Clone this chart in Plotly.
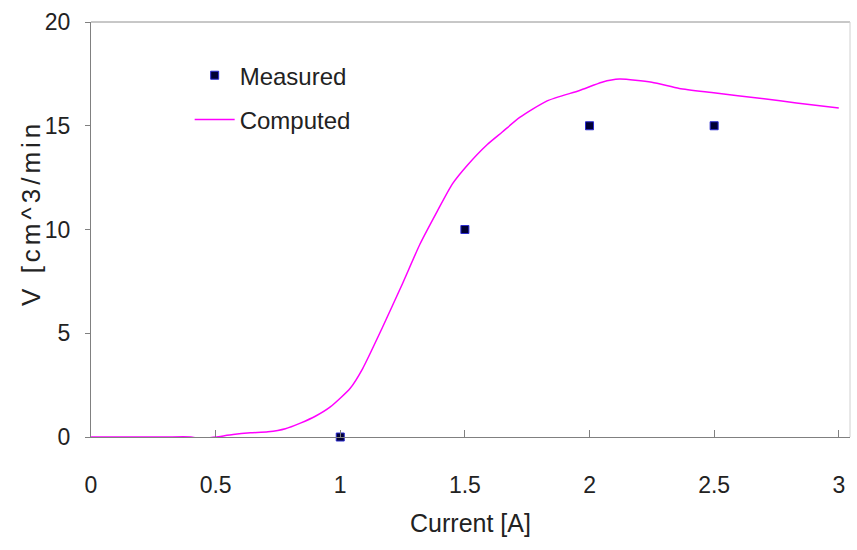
import plotly.graph_objects as go

# Measured data
meas_x = [1.0, 1.5, 2.0, 2.5]
meas_y = [0.0, 10.0, 15.0, 15.0]

# Computed curve
comp_x = [0.0, 0.1, 0.2, 0.3, 0.4, 0.44, 0.5, 0.57, 0.64, 0.71, 0.78, 0.84, 0.9, 0.96, 1.04,
          1.09, 1.17, 1.25, 1.32, 1.39, 1.45, 1.51, 1.59, 1.65, 1.72, 1.83, 1.96,
          2.05, 2.12, 2.25, 2.36, 2.49, 2.7, 2.83, 3.0]
comp_y = [0.0, 0.0, 0.0, 0.0, 0.0, -0.08, 0.0, 0.12, 0.2, 0.25, 0.4, 0.67, 1.0, 1.45, 2.35,
          3.3, 5.3, 7.4, 9.3, 10.9, 12.2, 13.1, 14.1, 14.7, 15.4, 16.2, 16.7,
          17.1, 17.25, 17.1, 16.8, 16.6, 16.3, 16.1, 15.85]

x_ticks = [0, 0.5, 1, 1.5, 2, 2.5, 3]
x_tick_text = ["0", "0.5", "1", "1.5", "2", "2.5", "3"]
y_ticks = [0, 5, 10, 15, 20]

FONT = "Liberation Sans, Arial, sans-serif"

fig = go.Figure()
fig.add_trace(go.Scatter(
    x=meas_x, y=meas_y, mode="markers", name="Measured",
    legendgroup="a",
    marker=dict(symbol="square", size=8, color="#000033",
                line=dict(color="#2a2ad0", width=1)),
    cliponaxis=False,
))
fig.add_trace(go.Scatter(
    x=comp_x, y=comp_y, mode="lines", name="Computed",
    legendgroup="b",
    line=dict(color="#ff00ff", width=1.5, shape="spline", smoothing=0.6),
))

fig.update_layout(
    width=857, height=550,
    margin=dict(l=91, r=7, t=22, b=113),
    paper_bgcolor="white", plot_bgcolor="white",
    font=dict(family=FONT, size=23, color="#222222"),
    showlegend=True,
    legend=dict(x=0.13, y=0.925, xanchor="left", yanchor="top",
                bgcolor="rgba(0,0,0,0)", font=dict(size=24, color="#222222"),
                traceorder="grouped", tracegroupgap=10, itemwidth=40),
    xaxis=dict(range=[0, 3.045], tickvals=x_ticks, ticktext=x_tick_text,
               showgrid=False, zeroline=False,
               showline=True, linecolor="#808080", linewidth=1, mirror=False,
               ticks="inside", ticklen=7, tickcolor="#808080",
               ticklabelstandoff=27,
               tickfont=dict(size=23),
               title=dict(text="Current [A]", font=dict(size=25), standoff=17)),
    yaxis=dict(range=[0, 20], tickvals=y_ticks,
               showgrid=False, zeroline=False,
               showline=True, linecolor="#808080", linewidth=1,
               ticks="outside", ticklen=5, tickcolor="#808080",
               ticklabelstandoff=10,
               tickfont=dict(size=23)),
    annotations=[dict(
        text='<span style="letter-spacing:4px">V [cm^3/min</span>',
        xref="paper", yref="paper", x=-0.079, y=0.54,
        xanchor="center", yanchor="middle", textangle=-90,
        showarrow=False, font=dict(size=26, color="#222222"),
    )],
)

# frame: top and right border of the plot area
fig.add_shape(type="line", xref="paper", yref="paper", x0=0, x1=1, y0=1, y1=1,
              line=dict(color="#909090", width=1))
fig.add_shape(type="line", xref="paper", yref="paper", x0=1, x1=1, y0=0, y1=1,
              line=dict(color="#d0d0d0", width=1))

fig.write_html("out.html")
